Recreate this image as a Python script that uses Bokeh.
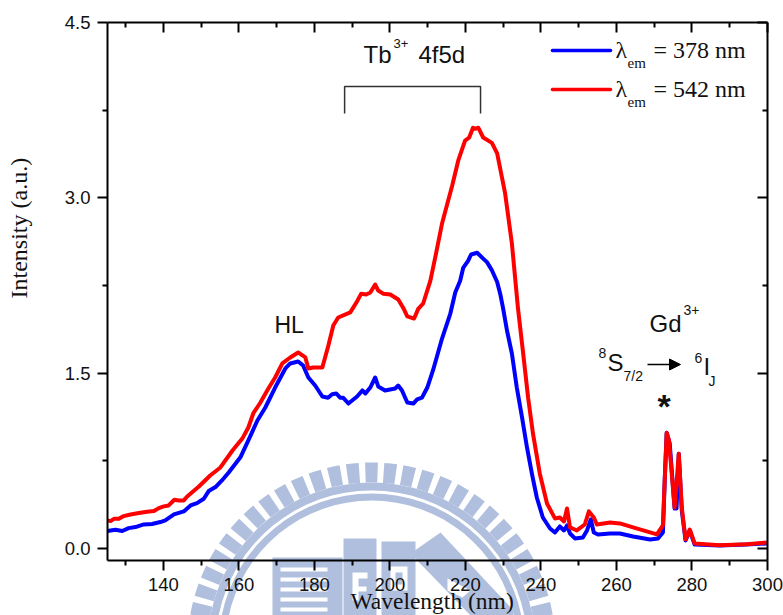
import math
from bokeh.plotting import figure
from bokeh.embed import file_html
from bokeh.resources import INLINE
from bokeh.models import Range1d, LinearAxis, FixedTicker, Label, NumeralTickFormatter, Arrow, NormalHead, CustomJSTickFormatter

blue_x = [125.2,127.3,129.1,130.8,132.6,134.8,137,139.2,140.5,142.8,145.4,147.2,148.9,150.7,152,153.8,155.5,157.3,160.4,162.5,164.9,167,169.6,172.3,173.6,175.7,177,178.4,180.2,182.1,183.6,184.7,185.8,186.8,187.6,189,191.3,192.7,193.5,194.8,196.1,196.9,198.7,201.4,202.2,203.2,204.6,206.2,207.2,208.5,209.9,211.4,213.8,216,217.3,218.6,219.4,220.7,221.5,223.1,224.7,225.7,227,228.4,229.2,230,231,232.3,233.6,235,236.3,237.6,238.9,240.5,242.4,243.7,245,246.1,246.9,247.7,249,251.1,252.2,253.2,254,255.1,258.3,260.9,264.4,268.9,271,272.3,272.8,273.3,274.1,275.4,275.9,276.5,277.3,278.3,279.4,280.7,287.3,294.5,299.8]
blue_y = [0.149,0.160,0.149,0.174,0.183,0.206,0.209,0.226,0.24,0.291,0.317,0.368,0.388,0.425,0.491,0.525,0.582,0.65,0.78,0.924,1.095,1.206,1.377,1.54,1.583,1.6,1.565,1.463,1.394,1.30,1.29,1.32,1.326,1.29,1.29,1.24,1.30,1.352,1.326,1.377,1.463,1.386,1.352,1.369,1.394,1.352,1.249,1.24,1.275,1.29,1.377,1.523,1.796,2.01,2.19,2.29,2.40,2.46,2.515,2.53,2.48,2.45,2.38,2.28,2.18,2.05,1.865,1.668,1.377,1.12,0.864,0.64,0.436,0.265,0.171,0.137,0.188,0.154,0.197,0.128,0.086,0.094,0.154,0.248,0.137,0.12,0.128,0.128,0.103,0.077,0.086,0.137,0.6,0.99,0.9,0.342,0.342,0.81,0.325,0.068,0.154,0.034,0.026,0.034,0.043]

red_x = [125.2,126,126.9,128.2,129.5,131.3,133.5,135.7,137.5,138.8,140.1,141.4,142.9,144.1,145.4,146.3,149.4,152.4,155.1,158.3,160.9,162.5,163.8,165.7,167.8,169.6,171.5,173.6,175.7,177.6,178.4,179.7,182.1,183.7,185,186.3,189.5,191.4,192.4,193.7,194.8,196.1,196.9,198.2,200.1,202.2,203.5,204.6,206.4,207.5,208.8,210.7,212,213.8,215.2,216.5,218.1,219.9,221,222,222.6,223.4,224.7,227,228.4,230.5,232.3,233.9,235.2,236.6,237.9,239.7,241.6,243.7,245,246.1,246.9,247.7,249.5,251.6,252.7,254,254.8,258.3,260.9,264.4,270.7,272.3,272.8,273.3,273.9,275.4,276.5,277.3,278.3,279.4,280.7,287.3,294.5,299.8]
red_y = [0.24,0.234,0.254,0.254,0.277,0.291,0.303,0.314,0.32,0.345,0.36,0.368,0.417,0.411,0.411,0.445,0.53,0.624,0.693,0.838,0.94,1.035,1.155,1.249,1.369,1.463,1.583,1.634,1.677,1.634,1.54,1.548,1.548,1.737,1.908,1.976,2.02,2.12,2.18,2.173,2.19,2.258,2.207,2.18,2.173,2.13,2.06,1.985,1.967,2.05,2.096,2.29,2.49,2.78,2.95,3.105,3.32,3.49,3.516,3.6,3.59,3.6,3.516,3.47,3.38,3.04,2.61,2.06,1.694,1.29,0.98,0.64,0.385,0.257,0.265,0.231,0.342,0.18,0.154,0.205,0.317,0.265,0.205,0.222,0.214,0.18,0.12,0.197,0.6,0.99,0.924,0.35,0.81,0.35,0.077,0.162,0.043,0.028,0.036,0.05]

x_major = [140,160,180,200,220,240,260,280,300]
x_minor = [130,150,170,190,210,230,250,270,290]
y_major = [0,1.5,3,4.5]
y_minor = [0.75,2.25,3.75]
bracket_x = [188,224]

W, H = 783, 615
X0, X1, Y0, Y1 = 125.2, 300.0, -0.103, 4.5
PL, PR, PT, PB = 107, 767, 22, 560   # page pixels of the frame
def dx(px): return X0 + (px-PL)*(X1-X0)/(PR-PL)
def dy(py): return Y1 - (py-PT)*(Y1-Y0)/(PB-PT)

# back layer: page-sized frame for the watermark seal and the annotations
back = figure(width=W, height=H, output_backend="svg", toolbar_location=None,
              x_range=Range1d(0,W), y_range=Range1d(H,0), x_axis_type=None, y_axis_type=None,
              min_border=0, outline_line_color=None, background_fill_color="white", border_fill_color="white",
              styles={"position":"absolute","left":"0px","top":"0px"})
back.grid.visible = False

# front layer: the chart proper, transparent
p = figure(width=W, height=H, output_backend="svg", toolbar_location=None,
           x_range=Range1d(X0,X1), y_range=Range1d(Y0,Y1),
           min_border_left=PL, min_border_right=W-PR, min_border_top=PT, min_border_bottom=H-PB,
           x_axis_type=None, y_axis_type=None, outline_line_color=None,
           background_fill_color=None, border_fill_color=None,
           styles={"position":"absolute","left":"0px","top":"0px"})
p.grid.visible = False

def style(ax, labels, inward, ticks, minors):
    ax.ticker = FixedTicker(ticks=ticks, minor_ticks=minors)
    ax.axis_line_width = 2; ax.axis_line_color = "black"
    ax.major_tick_line_width = 2; ax.minor_tick_line_width = 2
    ax.major_tick_line_color = "black"; ax.minor_tick_line_color = "black"
    if inward:
        ax.major_tick_in, ax.major_tick_out, ax.minor_tick_in, ax.minor_tick_out = 10,0,5,0
    else:
        ax.major_tick_in, ax.major_tick_out, ax.minor_tick_in, ax.minor_tick_out = 0,10,0,5
    ax.major_label_text_font = "Liberation Sans"
    ax.major_label_text_font_size = "18.5px"
    ax.major_label_text_color = "#111111"
    ax.major_label_standoff = 7 if labels else 0
    if not labels:
        ax.formatter = CustomJSTickFormatter(code="return ''")

bottom = LinearAxis(); style(bottom, True, False, x_major, x_minor)
left = LinearAxis(formatter=NumeralTickFormatter(format="0.0")); style(left, True, False, y_major, y_minor)
top = LinearAxis(); style(top, False, True, x_major, x_minor)
right = LinearAxis(); style(right, False, True, y_major, y_minor)
p.add_layout(bottom,"below"); p.add_layout(left,"left"); p.add_layout(top,"above"); p.add_layout(right,"right")

WM = "#AFBFDD"
CX, CY, R = 371, 646, 184
def wm_poly(pts, color=WM):
    back.patch([a for a,b in pts], [b for a,b in pts], fill_color=color, line_color=None)
def arc(r0, r1, a0, a1, n=40):
    out=[]
    for i in range(n+1):
        t=math.radians(a0+(a1-a0)*i/n); out.append((CX+r1*math.cos(t), CY-r1*math.sin(t)))
    for i in range(n,-1,-1):
        t=math.radians(a0+(a1-a0)*i/n); out.append((CX+r0*math.cos(t), CY-r0*math.sin(t)))
    return out
for k in range(-1,32):
    c = k*6
    wm_poly(arc(R-20, R, c-2, c+2, 2))
wm_poly(arc(R-28, R-20, -8, 188))
wm_poly(arc(R-38, R-31, -8, 188))
wm_poly([(272,557),(342,557),(342,615),(272,615)])
for yy in (567,577,587,597,607):
    wm_poly([(280,yy),(327,yy),(327,yy+4),(280,yy+4)], "white")
wm_poly([(343,538),(376,538),(376,615),(343,615)])
wm_poly([(352,572),(367,572),(367,578),(358,578),(358,586),(366,586),(366,591),(358,591),(358,600),(352,600)], "white")
wm_poly([(381,541),(415,541),(415,615),(381,615)])
wm_poly([(390,566),(407,566),(407,590),(390,590)], "white")
wm_poly([(395,572),(402,572),(402,584),(395,584)])
wm_poly([(410,553),(440,532),(513,610),(513,615),(470,615)])
wm_poly([(447,578),(470,590),(462,597),(447,590)], "white")

p.line(blue_x, blue_y, line_color="#0000FF", line_width=4, line_join="round")
p.line(red_x, red_y, line_color="#FF0000", line_width=4, line_join="round")

p.line([bracket_x[0],bracket_x[0],bracket_x[1],bracket_x[1]], [dy(113),dy(86),dy(86),dy(113)], line_color="#333333", line_width=1.5)

p.line([dx(552),dx(610)],[dy(50),dy(50)], line_color="#0000FF", line_width=3.6, line_cap="round")
p.line([dx(552),dx(610)],[dy(89),dy(89)], line_color="#FF0000", line_width=3.6, line_cap="round")

SANS, SERIF = "Liberation Sans", "Liberation Serif"
def lab(px, py, s, size, font=SANS, angle=0, style_="normal"):
    shift = 0.37*size          # the renderer sets this baseline low by about this much
    if angle:
        px -= shift
    else:
        py -= shift
    back.add_layout(Label(x=px, y=py, text=s, text_font=font, text_font_size=f"{size}px",
                       text_baseline="alphabetic", text_align="left", text_color="#111111",
                       angle=angle, angle_units="rad", text_font_style=style_))

lab(350, 609, "Wavelength (nm)", 23.5, SERIF)
lab(27, 298, "Intensity (a.u.)", 24, SERIF, angle=math.pi/2)
lab(363, 63, "Tb", 24); lab(393, 48, "3+", 13); lab(418, 63, "4f5d", 24)
lab(274, 333, "HL", 23)
lab(649, 332, "Gd", 24); lab(683, 315, "3+", 14)
lab(598, 358, "8", 14); lab(607, 371, "S", 24); lab(623, 381, "7/2", 14)
lab(694, 363, "6", 14); lab(703, 375, "I", 24); lab(708, 386, "J", 14)
lab(657, 418, "*", 34, SANS, style_="bold")
for yb, s in ((58,"= 378 nm"),(97,"= 542 nm")):
    lab(615, yb, "\u03bb", 24, SERIF)
    lab(627, yb+10, "em", 15, SERIF)
    lab(653, yb, s, 24, SERIF)

p.add_layout(Arrow(x_start=dx(647), y_start=dy(364), x_end=dx(680), y_end=dy(364), line_color="black", line_width=1.5,
                   end=NormalHead(size=11, fill_color="black", line_color="black", line_width=1)))

open("out.html","w").write(file_html([back, p], INLINE))
